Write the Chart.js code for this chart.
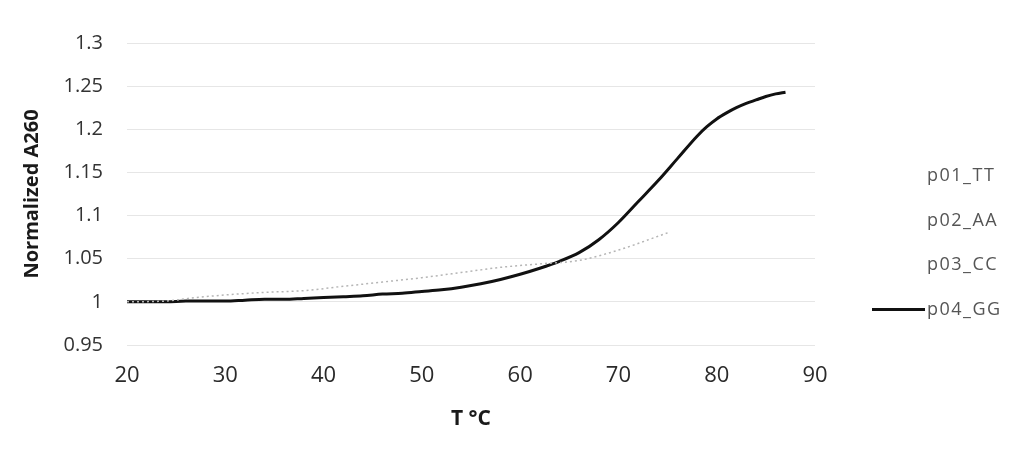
<!DOCTYPE html>
<html>
<head>
<meta charset="utf-8">
<script src="https://cdn.jsdelivr.net/npm/chart.js@4.4.1/dist/chart.umd.min.js"></script>
<style>
  html, body { margin: 0; padding: 0; background: #ffffff; }
  #wrap { width: 1015px; height: 463px; position: relative; }
</style>
</head>
<body>
<div id="wrap"><canvas id="c" width="1015" height="463"></canvas></div>
<script>
// ---- data ----
const seriesNames = ["p01_TT", "p02_AA", "p03_CC", "p04_GG"];
const xTicks = [20, 30, 40, 50, 60, 70, 80, 90];
const yTicks = [0.95, 1, 1.05, 1.1, 1.15, 1.2, 1.25, 1.3];

const tempTT = [];
const valTT = [];
const tempAA = [];
const valAA = [];
const tempCC = [20, 24, 27, 30, 34, 38, 42, 46, 50, 54, 58, 62, 66, 70, 75];
const valCC  = [1.000, 1.001, 1.005, 1.008, 1.011, 1.013, 1.018, 1.023, 1.028, 1.034, 1.040, 1.044, 1.048, 1.060, 1.080];
const tempGG = [20, 22, 24, 26, 28, 30, 32, 34, 36, 38, 40, 42, 44, 46, 48, 50, 52, 54, 56, 58, 60, 62, 64, 66, 68, 70, 72, 74, 76, 78, 79, 80, 81, 82, 83, 84, 85, 86, 87];
const valGG  = [1.000, 1.000, 1.000, 1.001, 1.001, 1.001, 1.002, 1.003, 1.003, 1.004, 1.005, 1.006, 1.007, 1.009, 1.010, 1.012, 1.014, 1.017, 1.021, 1.026, 1.032, 1.039, 1.047, 1.057, 1.072, 1.092, 1.116, 1.140, 1.166, 1.192, 1.203, 1.212, 1.219, 1.225, 1.230, 1.234, 1.238, 1.241, 1.243];

const pts = (xs, ys) => xs.map((x, i) => ({ x: x, y: ys[i] }));

const FONT = "'Open Sans', 'DejaVu Sans', sans-serif";

const customLegend = {
  id: 'customLegend',
  afterDraw(chart, args, opts) {
    const ctx = chart.ctx;
    const area = chart.chartArea;
    ctx.save();
    ctx.font = opts.fontSize + 'px ' + FONT;
    ctx.fillStyle = opts.color;
    ctx.textAlign = 'left';
    ctx.textBaseline = 'alphabetic';
    try { ctx.letterSpacing = opts.letterSpacing; } catch (e) {}
    const x0 = area.right + opts.offsetX;
    chart.data.datasets.forEach((ds, i) => {
      const base = opts.firstBaseline + i * opts.spacing;
      if (ds.legendSample) {
        ctx.save();
        ctx.strokeStyle = ds.borderColor;
        ctx.lineWidth = ds.borderWidth;
        ctx.beginPath();
        ctx.moveTo(x0 - opts.sampleWidth - 2, base - opts.sampleRise);
        ctx.lineTo(x0 - 2, base - opts.sampleRise);
        ctx.stroke();
        ctx.restore();
      }
      ctx.fillText(ds.label, x0, base);
    });
    ctx.restore();
  }
};

new Chart(document.getElementById('c'), {
  type: 'line',
  data: {
    datasets: [
      { label: seriesNames[0], data: pts(tempTT, valTT), borderColor: '#f2f2f2', borderWidth: 1.5, pointRadius: 0, legendSample: false },
      { label: seriesNames[1], data: pts(tempAA, valAA), borderColor: '#f2f2f2', borderWidth: 1.5, pointRadius: 0, legendSample: false },
      { label: seriesNames[2], data: pts(tempCC, valCC), borderColor: '#b5b5b5', borderWidth: 1.5, borderDash: [2, 3], pointRadius: 0, cubicInterpolationMode: 'monotone', legendSample: false },
      { label: seriesNames[3], data: pts(tempGG, valGG), borderColor: '#111111', borderWidth: 3, pointRadius: 0, cubicInterpolationMode: 'monotone', legendSample: true }
    ]
  },
  options: {
    responsive: false,
    animation: false,
    layout: { padding: { left: 0, right: 200, top: 43, bottom: 0 } },
    plugins: {
      legend: { display: false },
      tooltip: { enabled: false },
      customLegend: {
        offsetX: 112, firstBaseline: 181, spacing: 44.5, fontSize: 18,
        letterSpacing: '1.5px', color: '#555555', sampleWidth: 53, sampleRise: 5
      }
    },
    scales: {
      x: {
        type: 'linear',
        min: 20, max: 90,
        afterBuildTicks: s => { s.ticks = xTicks.map(v => ({ value: v })); },
        afterFit: s => { s.height = 118; },
        grid: { display: false, drawTicks: false },
        border: { display: false },
        ticks: { color: '#2a2a2a', font: { family: FONT, size: 22 }, padding: 18, maxRotation: 0 },
        title: { display: true, text: 'T °C', color: '#1a1a1a', font: { family: FONT, size: 21, weight: 'bold' }, padding: { top: 0, bottom: 31 } }
      },
      y: {
        type: 'linear',
        min: 0.95, max: 1.3,
        afterBuildTicks: s => { s.ticks = yTicks.map(v => ({ value: v })); },
        afterFit: s => { s.width = 127; },
        grid: { color: '#e6e6e6', lineWidth: 1, drawTicks: false },
        border: { display: false },
        ticks: { color: '#333333', font: { family: FONT, size: 20 }, padding: 24, callback: v => String(Math.round(v * 100) / 100) },
        title: { display: true, text: 'Normalized A260', color: '#1a1a1a', font: { family: FONT, size: 20, weight: 'bold' }, padding: { top: 20, bottom: 0 } }
      }
    }
  },
  plugins: [customLegend]
});
</script>
</body>
</html>
